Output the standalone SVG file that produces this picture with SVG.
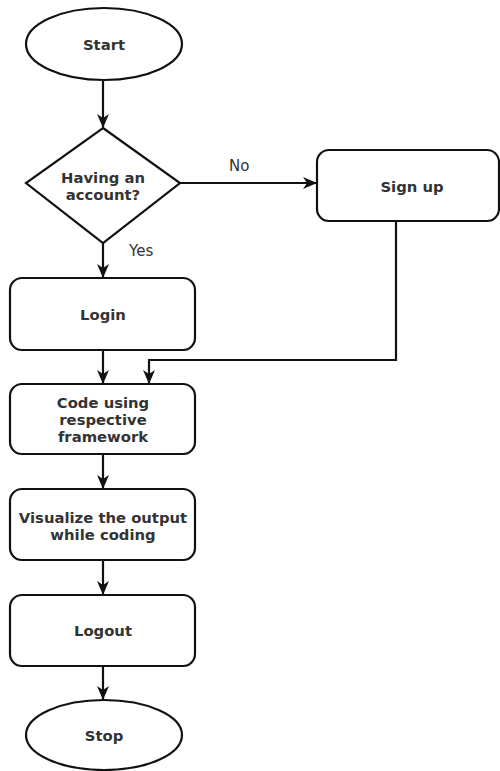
<svg xmlns="http://www.w3.org/2000/svg" width="500" height="771" viewBox="0 0 500 771">
<style>
.shape{fill:#fff;stroke:#111;stroke-width:2.2}
.lbl{font-family:"DejaVu Sans",Verdana,sans-serif;font-size:14.8px;font-weight:bold;fill:#333;text-anchor:middle}
.edge{fill:none;stroke:#111;stroke-width:2.2}
.elbl{font-family:"DejaVu Sans",Verdana,sans-serif;font-size:15px;fill:#333}
</style>
<defs>
<marker id="arr" viewBox="0 0 14 12" refX="13" refY="6" markerWidth="14" markerHeight="12" markerUnits="userSpaceOnUse" orient="auto">
<path d="M0,0 L14,6 L0,12 L4,6 Z" fill="#111"/>
</marker>
</defs>
<rect width="500" height="771" fill="#fff"/>
<g id="connectors">
<path class="edge" d="M103,80 V127" marker-end="url(#arr)"/>
<path class="edge" d="M180,183 H316" marker-end="url(#arr)"/>
<path class="edge" d="M103,243 V277" marker-end="url(#arr)"/>
<path class="edge" d="M396,221 V360 H149 V383" marker-end="url(#arr)"/>
<path class="edge" d="M103,350 V383" marker-end="url(#arr)"/>
<path class="edge" d="M103,454 V488" marker-end="url(#arr)"/>
<path class="edge" d="M103,560 V594" marker-end="url(#arr)"/>
<path class="edge" d="M103,666 V699" marker-end="url(#arr)"/>
<text class="elbl" x="229" y="171">No</text>
<text class="elbl" x="129" y="256">Yes</text>
</g>
<g id="start">
<ellipse class="shape" cx="104" cy="44" rx="78" ry="36"/>
<text class="lbl" x="104" y="50">Start</text>
</g>
<g id="decision">
<polygon class="shape" points="103,128 180,183 103,243 26,183"/>
<text class="lbl" x="103" y="183">Having an</text>
<text class="lbl" x="103" y="200">account?</text>
</g>
<g id="signup">
<rect class="shape" x="317" y="150" width="182" height="71" rx="12"/>
<text class="lbl" x="412" y="192">Sign up</text>
</g>
<g id="login">
<rect class="shape" x="10" y="278" width="185" height="72" rx="12"/>
<text class="lbl" x="103" y="320">Login</text>
</g>
<g id="code">
<rect class="shape" x="10" y="384" width="185" height="70" rx="12"/>
<text class="lbl" x="103" y="408">Code using</text>
<text class="lbl" x="103" y="425">respective</text>
<text class="lbl" x="103" y="442">framework</text>
</g>
<g id="visualize">
<rect class="shape" x="10" y="489" width="185" height="71" rx="12"/>
<text class="lbl" x="103" y="523">Visualize the output</text>
<text class="lbl" x="103" y="540">while coding</text>
</g>
<g id="logout">
<rect class="shape" x="10" y="595" width="185" height="71" rx="12"/>
<text class="lbl" x="103" y="636">Logout</text>
</g>
<g id="stop">
<ellipse class="shape" cx="104" cy="735" rx="78" ry="35"/>
<text class="lbl" x="104" y="741">Stop</text>
</g>
</svg>
